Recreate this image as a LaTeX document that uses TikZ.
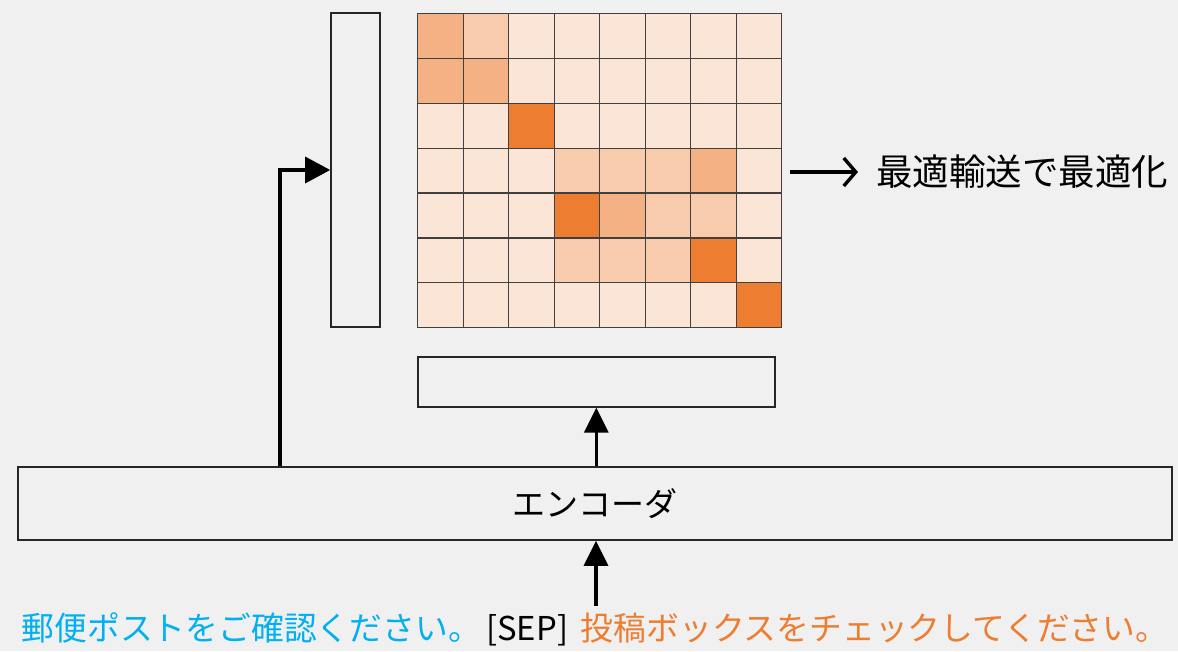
\documentclass[tikz,border=0pt]{standalone}
\usepackage{fontspec}
\setmainfont{Noto Sans CJK JP}
\usetikzlibrary{arrows.meta}
\definecolor{bg}{HTML}{F0F0F0}
\definecolor{cD}{HTML}{ED7D31}
\definecolor{cM}{HTML}{F4B183}
\definecolor{cL}{HTML}{F8CBAD}
\definecolor{cE}{HTML}{FBE5D6}
\definecolor{blueT}{HTML}{00B0F0}
\definecolor{orangeT}{HTML}{ED7D31}
\tikzset{
  box/.style={draw=black!85, line width=1.6pt, fill=none, inner sep=0pt},
  cell/.style={draw=black!75, line width=1.3pt, inner sep=0pt, anchor=north west,
    minimum width=45.5pt, minimum height=44.857pt},
  arr/.style={line width=3.2pt, -{Triangle[length=25pt,width=24pt]}},
  chev/.style={line width=3.4pt, -{Straight Barb[length=12pt,width=28pt]}},
}
\begin{document}
\begin{tikzpicture}[x=1pt,y=-1pt]
\fill[bg] (0,0) rectangle (1178,651);
\useasboundingbox (0,0) rectangle (1178,651);

% vertical vector box
\node[box, minimum width=49pt, minimum height=314pt] (vec) at (355.5,170) {};

% attention grid
\foreach \col [count=\k from 0] in {
  M,L,E,E,E,E,E,E,
  M,M,E,E,E,E,E,E,
  E,E,D,E,E,E,E,E,
  E,E,E,L,L,L,M,E,
  E,E,E,D,M,L,L,E,
  E,E,E,L,L,L,D,E,
  E,E,E,E,E,E,E,D} {
  \pgfmathtruncatemacro{\r}{\k/8}
  \pgfmathtruncatemacro{\c}{\k-8*\r}
  \node[cell, fill=c\col] (cell-\k) at ({417+\c*45.5},{13+\r*44.857}) {};
}

% optimal transport label
\coordinate (as) at (790,172);
\coordinate (ae) at (858,172);
\node[anchor=west, inner sep=0pt, font=\fontsize{36.5}{40}\selectfont] (ot) at (876,172) {最適輸送で最適化};
\draw[chev] (as) -- (ae);

% lower box
\node[box, minimum width=357pt, minimum height=50pt, anchor=north west] (dec) at (417,356) {};

% encoder
\node[box, minimum width=1154pt, minimum height=73pt, font=\fontsize{33}{38}\selectfont] (enc) at (595,503.5) {エンコーダ};

% input text
\node[inner sep=0pt, anchor=base, text height=27pt, text depth=5pt, font=\fontsize{32.8}{36}\selectfont] (inp) at (595,640) {\textcolor{blueT}{郵便ポストをご確認ください。}\,[SEP]\, \textcolor{orangeT}{投稿ボックスをチェックしてください。}};
\coordinate (in) at (596,606);

% connectors
\draw[arr] (in) -- (in |- enc.south);
\draw[arr] (enc.north -| dec.south) -- (dec.south);
\coordinate (lb) at (280,0);
\draw[line width=3.2pt, -{Triangle[length=25pt,width=26pt]}] (enc.north -| lb) |- (vec.west);
\end{tikzpicture}
\end{document}
